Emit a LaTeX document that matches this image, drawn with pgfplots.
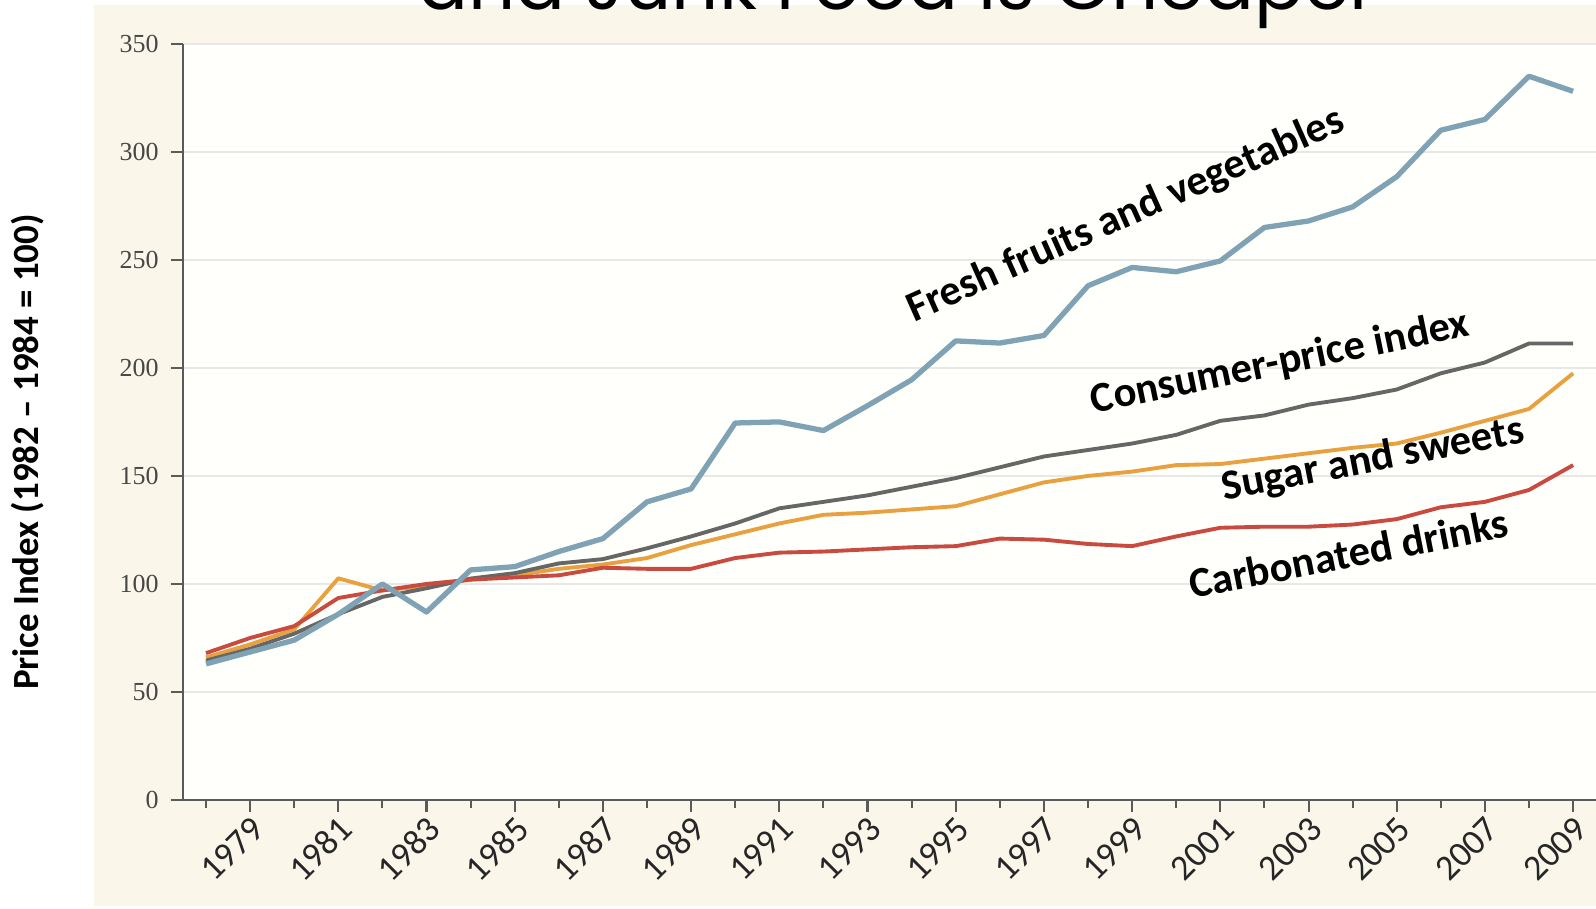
\documentclass[border=0pt]{standalone}
\usepackage{pgfplots}
\pgfplotsset{compat=1.18}
\usetikzlibrary{backgrounds}
\usepackage{fontspec}
\setmainfont{Carlito}
\newfontfamily\serifnum{Liberation Serif}
\newfontfamily\titlefont{Poppins}
\definecolor{cream}{HTML}{FAF7EA}
\definecolor{plotbg}{HTML}{FFFFFB}
\definecolor{gridc}{HTML}{E8E8E6}
\definecolor{axisc}{HTML}{5A5A5A}
\definecolor{fresh}{HTML}{7FA2B4}
\definecolor{cpi}{HTML}{666666}
\definecolor{sugar}{HTML}{E8A13E}
\definecolor{soda}{HTML}{C94A3F}
\begin{document}
\begin{tikzpicture}
\begin{axis}[
  name=ax,
  scale only axis, width=14.17cm, height=7.562cm,
  xmin=1977.478, xmax=2009.61, ymin=0, ymax=350,
  axis x line*=bottom, axis y line*=left,
  every outer x axis line/.append style={-},
  every outer y axis line/.append style={-},
  every inner x axis line/.append style={-},
  every inner y axis line/.append style={-},
  axis line style={draw=axisc, line width=0.6pt},
  axis background/.style={fill=plotbg},
  ytick={0,50,...,350},
  xtick={1979,1981,...,2009},
  minor xtick={1978,1980,...,2008},
  tick align=outside,
  major tick length=0.12cm, minor tick length=0.08cm,
  tick style={draw=axisc, line width=0.6pt},
  ymajorgrids, major grid style={draw=gridc, line width=0.6pt},
  /pgf/number format/assume math mode=true,
  /pgf/number format/1000 sep={},
  yticklabel style={font=\serifnum\fontsize{7.4}{8}\selectfont, text=black!72},
  xticklabel style={xshift=0.164cm, yshift=-0.025cm, rotate=45, anchor=east, font=\fontsize{10.2}{11}\selectfont, text=black!85},
  clip=false,
]
\addplot[sugar, line width=1.1pt, line join=round, no markers] table {
1978 66
1979 72
1980 79
1981 102.6
1982 97
1983 99
1984 102
1985 104
1986 107
1987 109
1988 112
1989 118
1990 123
1991 128
1992 132
1993 133
1994 134.5
1995 136
1996 141.5
1997 147
1998 150
1999 152
2000 155
2001 155.5
2002 158
2003 160.5
2004 163
2005 165
2006 170
2007 175.5
2008 181
2009 197.5
};
\addplot[cpi, line width=1.1pt, line join=round, no markers] table {
1978 64.5
1979 70
1980 77
1981 86
1982 94
1983 98
1984 102.5
1985 105
1986 109.5
1987 111.5
1988 116.5
1989 122
1990 128
1991 135
1992 138
1993 141
1994 145
1995 149
1996 154
1997 159
1998 162
1999 165
2000 169
2001 175.5
2002 178
2003 183
2004 186
2005 190
2006 197.5
2007 202.5
2008 211.3
2009 211.3
};
\addplot[soda, line width=1.1pt, line join=round, no markers] table {
1978 68
1979 75
1980 80.5
1981 93.5
1982 97
1983 100
1984 102
1985 103
1986 104
1987 107.5
1988 107
1989 107
1990 112
1991 114.5
1992 115
1993 116
1994 117
1995 117.5
1996 121
1997 120.5
1998 118.5
1999 117.5
2000 122
2001 126
2002 126.5
2003 126.5
2004 127.5
2005 130
2006 135.5
2007 138
2008 143.5
2009 155
};
\addplot[fresh, line width=1.5pt, line join=round, no markers] table {
1978 63
1979 68.5
1980 74
1981 86
1982 100
1983 87
1984 106.5
1985 108
1986 115
1987 121
1988 138
1989 144
1990 174.5
1991 175
1992 171
1993 182.5
1994 194.5
1995 212.5
1996 211.5
1997 215
1998 238
1999 246.5
2000 244.5
2001 249.5
2002 265
2003 268
2004 274.5
2005 288.5
2006 310
2007 315
2008 335
2009 328
};
\node[anchor=base west, rotate=24, inner sep=0, font=\bfseries\fontsize{12.1}{13}\selectfont] at (axis cs:1994.05,221) {Fresh fruits and vegetables};
\node[anchor=base west, rotate=11.6, inner sep=0, font=\bfseries\fontsize{12.1}{13}\selectfont] at (axis cs:1998.12,179) {Consumer-price index};
\node[anchor=base west, rotate=10.9, inner sep=0, font=\bfseries\fontsize{12.1}{13}\selectfont] at (axis cs:2001.08,138.5) {Sugar and sweets};
\node[anchor=base west, rotate=11.1, inner sep=0, font=\bfseries\fontsize{12.1}{13}\selectfont] at (axis cs:2000.35,93) {Carbonated drinks};
\end{axis}
\begin{scope}[on background layer, shift={(ax.south west)}, xshift=-1.83cm, yshift=-1.08cm]
\fill[white] (0,0) rectangle (15.96,9.08);
\fill[cream] (0.94,0.02) rectangle (15.96,9.034);
\end{scope}
\begin{scope}[shift={(ax.south west)}, xshift=-1.83cm, yshift=-1.08cm]
\node[anchor=base west, inner sep=0, font=\titlefont\fontsize{21}{24}\selectfont] at (4.18,8.99) {and Junk Food is Cheaper};
\node[rotate=90, inner sep=0, font=\bfseries\fontsize{10.5}{12}\selectfont] at (0.275,4.56) {Price Index (1982 – 1984 = 100)};
\end{scope}
\pgfresetboundingbox
\begin{scope}[shift={(ax.south west)}, xshift=-1.83cm, yshift=-1.08cm]
\useasboundingbox (0,0) rectangle (15.96,9.08);
\end{scope}
\end{tikzpicture}
\end{document}
